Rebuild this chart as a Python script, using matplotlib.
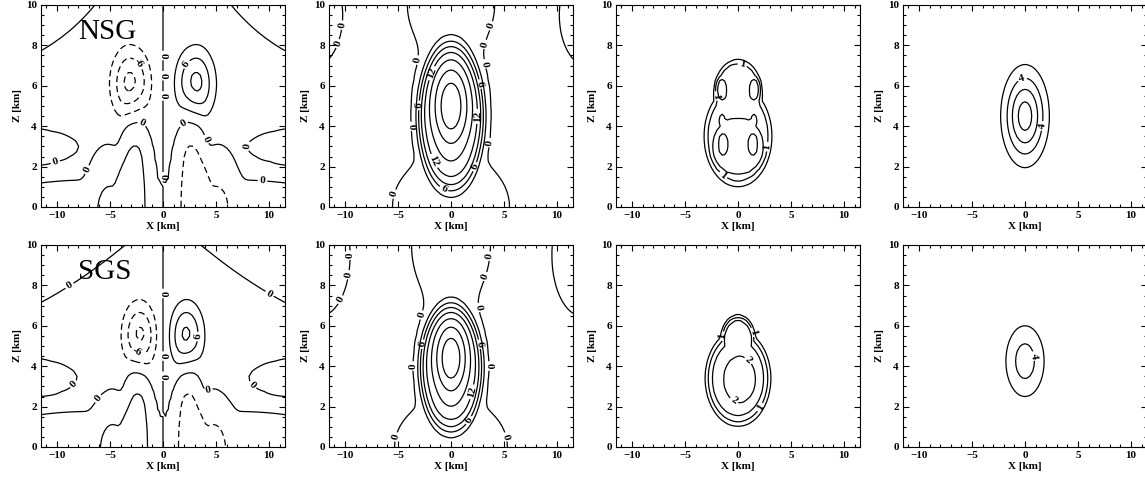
import numpy as np
import matplotlib.pyplot as plt
from matplotlib.ticker import MultipleLocator

plt.rcParams['font.family'] = ['Liberation Serif', 'DejaVu Serif']

# model grid (km)
x = np.arange(-11.5, 11.51, 0.25)
z = np.arange(0.0, 10.01, 0.25)
X, Z = np.meshgrid(x, z)

# fields rebuilt from cells: x0, z0, sigma_x, sigma_z, amplitude, shape exponent
U_NSG = np.array([
    [3.0, 6.1, 1.7, 1.7, 10.5, 2],
    [2.7, 0.0, 1.4, 6.0, -3.8, 4],
    [5.0, 0.0, 1.9, 2.6, -3.0, 4],
    [7.0, 6.0, 6.0, 4.0, 0.6, 2],
    [7.0, -1.0, 5.0, 2.0, -0.6, 2],
    [12.0, 3.05, 3.0, 0.55, -2.0, 2],
    [12.5, 11.5, 4.5, 2.8, -1.8, 2],
])
U_SGS = np.array([
    [2.2, 5.5, 1.5, 1.6, 10.0, 2],
    [2.4, 0.0, 1.3, 5.0, -3.8, 4],
    [4.7, 0.0, 1.8, 2.3, -3.0, 4],
    [7.0, 6.0, 6.0, 4.0, 0.6, 2],
    [7.0, -0.8, 5.0, 2.2, -0.75, 2],
    [12.0, 3.5, 3.0, 0.6, -2.0, 2],
    [12.0, 11.5, 5.5, 3.2, -2.0, 2],
])
W_NSG = np.array([
    [0.0, 4.45, 3.15, 3.7, 12.0, 8],
    [0.0, 5.0, 1.9, 2.3, 12.0, 2],
    [0.0, 10.0, 4.2, 2.6, 1.0, 4],
    [0.0, 0.0, 5.5, 2.6, 1.1, 4],
    [0.0, 5.0, 1e3, 1e3, -0.4, 2],
    [13.0, 9.5, 2.6, 2.4, 1.5, 4],
])
W_SGS = np.array([
    [0.0, 3.9, 3.0, 3.2, 12.0, 8],
    [0.0, 4.4, 1.7, 2.0, 12.0, 2],
    [0.0, 10.0, 3.8, 3.2, 1.0, 4],
    [0.0, 0.0, 5.3, 2.4, 1.1, 4],
    [0.0, 5.0, 1e3, 1e3, -0.4, 2],
    [12.3, 9.5, 2.6, 2.8, 1.5, 4],
])
Q_NSG = np.array([
    [0.0, 3.5, 3.2, 2.5, 1.35, 10],
    [0.0, 5.6, 2.3, 1.7, 1.35, 10],
    [0.0, 3.0, 2.9, 1.7, 1.75, 10],
    [1.5, 4.3, 0.55, 0.7, 1.6, 4],
    [1.5, 5.8, 0.7, 0.8, 1.8, 4],
    [1.4, 3.1, 0.9, 1.1, 2.15, 4],
])
Q_SGS = np.array([
    [0.0, 3.4, 3.0, 2.3, 1.8, 8],
    [0.0, 5.3, 1.6, 1.2, 1.8, 8],
    [0.15, 3.35, 2.1, 1.6, 2.3, 6],
])
R_NSG = np.array([
    [0.0, 4.5, 1.87, 2.08, 9.0, 2],
])
R_SGS = np.array([
    [0.0, 4.25, 1.88, 1.83, 5.0, 2],
])

LEV_U = [-9, -6, -3, 0, 3, 6, 9]
LEV_W = [0, 3, 6, 9, 12, 15, 18, 21]
LEV_Q = [0.5, 1.0, 1.5, 2.0]
LEV_R = [2, 4, 6, 8]

# (cells, mirror parity, combine, levels, tag, label positions per level)
panels = [
    (U_NSG, -1, 'sum', LEV_U, 'NSG',
     {0: [(0, 7.5), (0.2, 6.5), (0, 5.5), (-1.5, 4.5), (1.4, 4.5), (0, 1.5),
          (-10.3, 2.4), (-7.8, 2.0), (3.5, 3.2), (8.0, 3.0), (9.4, 1.5)],
      -6: [(-2.5, 7.0)], 6: [(2.4, 7.0)]}),
    (W_NSG, 1, 'sum', LEV_W, None,
     {0: [(-10.2, 9.0), (-10.2, 8.0), (3.6, 9.0), (3.6, 8.0), (-3.5, 7.3),
          (2.2, 7.0), (-3.3, 4.0), (3.4, 3.2), (-5.4, 0.65)],
      6: [(-2.3, 5.0), (2.0, 6.0), (2.2, 2.0), (-0.5, 1.1)],
      12: [(-1.5, 2.3), (-1.2, 6.5), (1.9, 4.5)]}),
    (Q_NSG, 1, 'max', LEV_Q, None,
     {1.0: [(0.4, 7.0), (-2.0, 5.5), (2.6, 3.0), (-1.5, 1.5)]}),
    (R_NSG, 0, 'sum', LEV_R, None,
     {4: [(-0.5, 6.6), (1.9, 4.0)]}),
    (U_SGS, -1, 'sum', LEV_U, 'SGS',
     {0: [(-8.9, 8.05), (10.5, 8.0), (0, 7.6), (0, 4.5), (0.5, 3.5),
          (-8.4, 3.1), (8.5, 3.1), (-5.4, 2.1), (4.5, 2.4)],
      6: [(2.7, 5.5)], -6: [(-2.8, 4.4)]}),
    (W_SGS, 1, 'sum', LEV_W, None,
     {0: [(-9.3, 9.5), (-9.3, 8.5), (-9.3, 7.0), (2.9, 9.5), (2.9, 8.5),
          (3.6, 7.0), (-2.5, 6.5), (-3.0, 4.0), (2.9, 4.0), (-5.2, 0.5), (5.2, 0.5)],
      6: [(-1.8, 5.0), (1.8, 5.0), (1.2, 1.5)],
      12: [(1.5, 2.8)]}),
    (Q_SGS, 0, 'max', LEV_Q, None,
     {1.0: [(-1.9, 5.5), (1.6, 5.7), (2.0, 2.0)],
      2.0: [(1.4, 4.5), (-0.5, 2.2)]}),
    (R_SGS, 0, 'sum', LEV_R, None,
     {4: [(0.8, 4.5)]}),
]


def cell(x0, z0, sx, sz, p):
    r2 = ((X - x0) / sx) ** 2 + ((Z - z0) / sz) ** 2
    return np.exp(-r2 ** (p / 2))


def build(cells, parity, combine):
    parts = []
    for x0, z0, sx, sz, a, p in cells:
        g = a * cell(x0, z0, sx, sz, p)
        if parity and x0 != 0:
            g = g + parity * a * cell(-x0, z0, sx, sz, p)
        parts.append(g)
    if combine == 'max':
        return np.max(parts, axis=0)
    return np.sum(parts, axis=0)


fig = plt.figure(figsize=(11.45, 4.82), dpi=100)
W, H = 1145.0, 482.0
lefts = [41, 329, 616, 903]
tops = [5, 245]
aw, ah = 244, 202

for i, (cells, parity, combine, levels, tag, labels) in enumerate(panels):
    row, col = divmod(i, 4)
    ax = fig.add_axes([lefts[col] / W, 1 - (tops[row] + ah) / H, aw / W, ah / H])
    f = build(cells, parity, combine)
    # one contour set per level so each can carry its own labels
    for lv in levels:
        if not (f.min() < lv < f.max()):
            continue
        ls = (0, (5, 3)) if lv < 0 else 'solid'
        cs = ax.contour(X, Z, f, levels=[lv], colors='k', linewidths=0.9,
                        linestyles=[ls])
        if lv in labels:
            txt = ax.clabel(cs, manual=labels[lv], inline=True, inline_spacing=2,
                            fmt='%g', fontsize=8)
            for t in txt:
                t.set_fontweight('bold')
    if tag:
        ax.text(-8.0, 8.3, tag, fontsize=21, ha='left', va='baseline')

    ax.set_xlim(-11.5, 11.5)
    ax.set_ylim(0, 10)
    ax.xaxis.set_major_locator(MultipleLocator(5))
    ax.xaxis.set_minor_locator(MultipleLocator(1))
    ax.yaxis.set_major_locator(MultipleLocator(2))
    ax.yaxis.set_minor_locator(MultipleLocator(0.5))
    ax.tick_params(which='both', direction='in', top=True, right=True,
                   labelsize=8, width=0.8, pad=3)
    ax.tick_params(which='major', length=4)
    ax.tick_params(which='minor', length=2)
    for lab in ax.get_xticklabels() + ax.get_yticklabels():
        lab.set_fontweight('bold')
    ax.set_xlabel('X [km]', fontsize=8, fontweight='bold', labelpad=1)
    ax.set_ylabel('Z [km]', fontsize=8, fontweight='bold', labelpad=3)

fig.savefig('out.png', dpi=100)
